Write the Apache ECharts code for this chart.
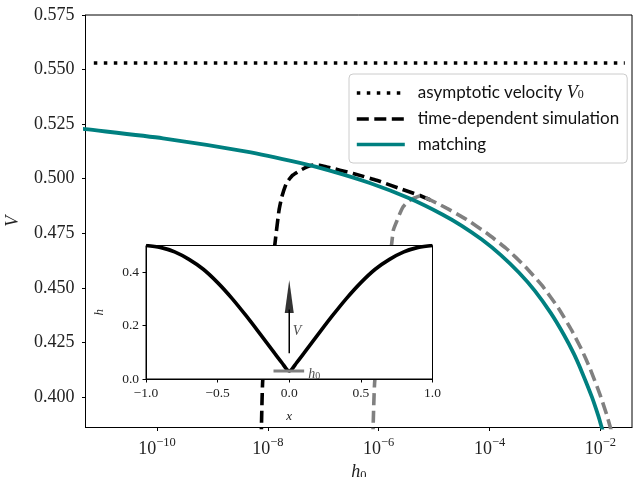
<!DOCTYPE html>
<html>
<head>
<meta charset="utf-8">
<script src="https://cdn.jsdelivr.net/npm/echarts@6/dist/echarts.min.js"></script>
<style>
  html, body { margin: 0; padding: 0; background: #fff; }
  #chart { width: 633px; height: 477px; }
</style>
</head>
<body>
<div id="chart"></div>
<script>
// log10(h0) limits of the main axis
const xLogMin = -11.29;
const xLogMax = -1.43;
const yMin = 0.386;
const yMax = 0.575;
const yTicks = [0.400, 0.425, 0.450, 0.475, 0.500, 0.525, 0.550, 0.575];
const xTickLogs = [-10, -8, -6, -4, -2];

// asymptotic velocity V0
const v0 = 0.553;
const v0LogH = [-11.14, -1.56];

// matching curve
const matchLogH = [-11.35, -11.292, -9.892, -8.386, -7.424, -6.913, -6.161, -5.439, -4.843, -4.5, -4.139, -3.796, -3.471, -3.182, -2.894, -2.659, -2.478, -2.325, -2.154, -2.036, -1.991, -1.955, -1.90];
const matchV = [0.5229, 0.5227, 0.5185, 0.5124, 0.5072, 0.5039, 0.4980, 0.4909, 0.4835, 0.4784, 0.4721, 0.4650, 0.4570, 0.4486, 0.4384, 0.4285, 0.4197, 0.4109, 0.4000, 0.3912, 0.3873, 0.3843, 0.3795];

// time-dependent simulation, run 1 (black), until it meets run 2
const sim1LogH = [-8.119, -8.116, -8.092, -7.875, -7.798, -7.749, -7.664, -7.551, -7.394, -7.280, -7.184, -7.063, -6.942, -6.462, -6.040, -5.619, -5.258, -5.0];
const sim1V = [0.3802, 0.3861, 0.4077, 0.4695, 0.4856, 0.4916, 0.4980, 0.5016, 0.5041, 0.5055, 0.5062, 0.5061, 0.5054, 0.5024, 0.4993, 0.4955, 0.4923, 0.4895];

// time-dependent simulation, run 2 (grey)
const sim2LogH = [-6.106, -6.101, -6.070, -5.769, -5.736, -5.679, -5.619, -5.560, -5.493, -5.421, -5.330, -5.258, -4.776, -4.415, -4.054, -3.693, -3.363, -3.061, -2.762, -2.520, -2.339, -2.190, -2.009, -1.888, -1.828, -1.792, -1.75];
const sim2V = [0.3802, 0.3861, 0.4077, 0.4695, 0.4764, 0.4802, 0.4840, 0.4871, 0.4890, 0.4904, 0.4914, 0.4921, 0.4865, 0.4813, 0.4751, 0.4679, 0.4599, 0.4513, 0.4409, 0.4306, 0.4217, 0.4132, 0.4012, 0.3920, 0.3867, 0.3833, 0.3793];

// inset: interface profile h(x)
const profX = [-1.0, -0.9, -0.8, -0.7, -0.6, -0.5, -0.4, -0.3, -0.2, -0.1, -0.05, -0.02, 0.0, 0.02, 0.05, 0.1, 0.2, 0.3, 0.4, 0.5, 0.6, 0.7, 0.8, 0.9, 1.0];
const profH = [0.500, 0.493, 0.476, 0.448, 0.411, 0.361, 0.302, 0.236, 0.166, 0.095, 0.060, 0.038, 0.030, 0.038, 0.060, 0.095, 0.166, 0.236, 0.302, 0.361, 0.411, 0.448, 0.476, 0.493, 0.500];
const h0BarX = [-0.11, 0.104];
const h0BarH = [0.030, 0.030];
const arrowX = [0, 0];
const arrowH = [0.096, 0.26];
const arrowHead = [0, 0.309];
const insetYTicks = [0.0, 0.2, 0.4];

const pairs = (logs, vals) => logs.map((l, i) => [Math.pow(10, l), vals[i]]);
const zip = (xs, ys) => xs.map((x, i) => [x, ys[i]]);

const serif = 'Liberation Serif';
const sans = 'Lato';
const minus = v => (v < 0 ? '\u2212' : '') + Math.abs(v).toFixed(1);

const chart = echarts.init(document.getElementById('chart'), null, { renderer: 'canvas' });

const option = {
  animation: false,
  backgroundColor: '#fff',
  grid: [
    { left: 85.5, top: 15, right: 1, bottom: 49.5, show: true, borderColor: '#000', borderWidth: 1,
      outerBoundsMode: 'none', containLabel: false },
    // inset
    { left: 146, top: 245.5, width: 286.5, height: 133.5, show: true, backgroundColor: '#fff',
      borderColor: '#000', borderWidth: 1, z: 10, outerBoundsMode: 'none', containLabel: false }
  ],
  legend: {
    orient: 'vertical',
    left: 349,
    top: 74,
    padding: [10, 8, 10, 6],
    itemWidth: 48,
    itemHeight: 14,
    itemGap: 8.5,
    backgroundColor: '#fff',
    borderColor: '#cccccc',
    borderWidth: 1,
    borderRadius: 4,
    data: ['asymptotic velocity', 'time-dependent simulation', 'matching'],
    lineStyle: { width: 3.6 },
    itemStyle: { opacity: 0, borderWidth: 0 },
    formatter: function (name) {
      if (name === 'asymptotic velocity') return 'asymptotic velocity {v|V}{s|0}';
      return name;
    },
    textStyle: {
      fontFamily: sans,
      fontSize: 17,
      color: '#111',
      lineHeight: 16,
      padding: [0, 0, 0, 8],
      rich: {
        v: { fontFamily: serif, fontStyle: 'italic', fontSize: 18, color: '#111' },
        s: { fontFamily: serif, fontSize: 12, color: '#111', verticalAlign: 'bottom', padding: [6, 0, 0, 0] }
      }
    }
  },
  xAxis: [
    {
      type: 'log',
      logBase: 10,
      gridIndex: 0,
      min: Math.pow(10, xLogMin),
      max: Math.pow(10, xLogMax),
      name: '{h|h}{s|0}',
      nameLocation: 'middle',
      nameGap: 34,
      nameTextStyle: {
        rich: {
          h: { fontFamily: serif, fontStyle: 'italic', fontSize: 18, color: '#222' },
          s: { fontFamily: serif, fontSize: 12.5, color: '#222', verticalAlign: 'bottom', padding: [7, 0, 0, 0] }
        }
      },
      axisLine: { lineStyle: { color: '#000', width: 1 } },
      axisTick: { show: true, length: 3.5, lineStyle: { color: '#000' }, customValues: xTickLogs.map(l => Math.pow(10, l)) },
      minorTick: { show: false },
      splitLine: { show: false },
      axisLabel: {
        margin: 9,
        customValues: xTickLogs.map(l => Math.pow(10, l)),
        formatter: function (v) {
          const e = Math.round(Math.log10(v));
          return '{b|10}{s|\u2212' + Math.abs(e) + '}';
        },
        rich: {
          b: { fontFamily: serif, fontSize: 18, color: '#222', lineHeight: 22, verticalAlign: 'bottom' },
          s: { fontFamily: serif, fontSize: 12.5, color: '#222', lineHeight: 13, verticalAlign: 'top' }
        }
      }
    },
    {
      type: 'value',
      gridIndex: 1,
      min: -1,
      max: 1,
      interval: 0.5,
      z: 12,
      name: 'x',
      nameLocation: 'middle',
      nameGap: 31,
      nameTextStyle: { fontFamily: serif, fontStyle: 'italic', fontSize: 13, color: '#222' },
      axisLine: { onZero: false, lineStyle: { color: '#000', width: 1 } },
      axisTick: { length: 3.5, lineStyle: { color: '#000' } },
      splitLine: { show: false },
      axisLabel: { margin: 7, fontFamily: serif, fontSize: 13.5, color: '#222', formatter: minus }
    }
  ],
  yAxis: [
    {
      type: 'value',
      gridIndex: 0,
      min: yMin,
      max: yMax,
      name: 'V',
      nameLocation: 'middle',
      nameGap: 63,
      nameRotate: 90,
      nameTextStyle: { fontFamily: serif, fontStyle: 'italic', fontSize: 18, color: '#222' },
      axisLine: { lineStyle: { color: '#000', width: 1 } },
      axisTick: { show: true, length: 3.5, lineStyle: { color: '#000' }, customValues: yTicks },
      splitLine: { show: false },
      axisLabel: {
        margin: 11,
        customValues: yTicks,
        fontFamily: serif,
        fontSize: 18,
        color: '#222',
        formatter: v => v.toFixed(3)
      }
    },
    {
      type: 'value',
      gridIndex: 1,
      min: 0,
      max: 0.5,
      z: 12,
      name: 'h',
      nameLocation: 'middle',
      nameGap: 40,
      nameRotate: 90,
      nameTextStyle: { fontFamily: serif, fontStyle: 'italic', fontSize: 13, color: '#222' },
      axisLine: { onZero: false, lineStyle: { color: '#000', width: 1 } },
      axisTick: { length: 3.5, lineStyle: { color: '#000' }, customValues: insetYTicks },
      splitLine: { show: false },
      axisLabel: { margin: 7, fontFamily: serif, fontSize: 13.5, color: '#222', customValues: insetYTicks,
        formatter: v => v.toFixed(1) }
    }
  ],
  series: [
    {
      name: 'asymptotic velocity',
      type: 'line',
      xAxisIndex: 0, yAxisIndex: 0,
      symbol: 'none',
      data: pairs(v0LogH, [v0, v0]),
      lineStyle: { color: '#000', width: 3.5, type: [3.5, 6.5] },
      itemStyle: { color: '#000' }
    },
    {
      name: 'time-dependent simulation',
      type: 'line',
      xAxisIndex: 0, yAxisIndex: 0,
      symbol: 'none',
      smooth: 0.15,
      data: pairs(sim1LogH, sim1V),
      lineStyle: { color: '#000', width: 3.6, type: [12, 5.5] },
      itemStyle: { color: '#000' }
    },
    {
      name: 'time-dependent simulation 2',
      type: 'line',
      xAxisIndex: 0, yAxisIndex: 0,
      symbol: 'none',
      smooth: 0.15,
      data: pairs(sim2LogH, sim2V),
      lineStyle: { color: '#808080', width: 3.6, type: [12, 5.5] },
      itemStyle: { color: '#808080' }
    },
    {
      name: 'matching',
      type: 'line',
      xAxisIndex: 0, yAxisIndex: 0,
      symbol: 'none',
      smooth: 0.2,
      data: pairs(matchLogH, matchV),
      lineStyle: { color: '#008080', width: 3.8 },
      itemStyle: { color: '#008080' }
    },
    // inset
    {
      type: 'line',
      xAxisIndex: 1, yAxisIndex: 1,
      z: 12,
      symbol: 'none',
      smooth: 0.3,
      data: zip(profX, profH),
      lineStyle: { color: '#000', width: 3.6 }
    },
    {
      type: 'line',
      xAxisIndex: 1, yAxisIndex: 1,
      z: 12,
      symbol: 'none',
      data: zip(h0BarX, h0BarH),
      lineStyle: { color: '#808080', width: 3 }
    },
    {
      type: 'line',
      xAxisIndex: 1, yAxisIndex: 1,
      z: 12,
      symbol: 'none',
      data: zip(arrowX, arrowH),
      lineStyle: { color: '#000', width: 1.5 }
    },
    {
      type: 'scatter',
      xAxisIndex: 1, yAxisIndex: 1,
      z: 12,
      symbol: 'triangle',
      symbolSize: [9, 33],
      data: [arrowHead],
      itemStyle: { color: '#000' }
    },
    {
      type: 'scatter',
      xAxisIndex: 1, yAxisIndex: 1,
      z: 12,
      symbolSize: 0,
      data: [
        { value: [0.055, 0.177], label: { formatter: '{i|V}' } },
        { value: [0.175, 0.018], label: { formatter: '{i|h}{s|0}' } }
      ],
      label: {
        show: true,
        position: 'inside',
        color: '#222',
        rich: {
          i: { fontFamily: serif, fontStyle: 'italic', fontSize: 14, color: '#222' },
          s: { fontFamily: serif, fontSize: 10, color: '#222', verticalAlign: 'bottom', padding: [5, 0, 0, 0] }
        }
      }
    }
  ]
};

chart.setOption(option);
</script>
</body>
</html>
